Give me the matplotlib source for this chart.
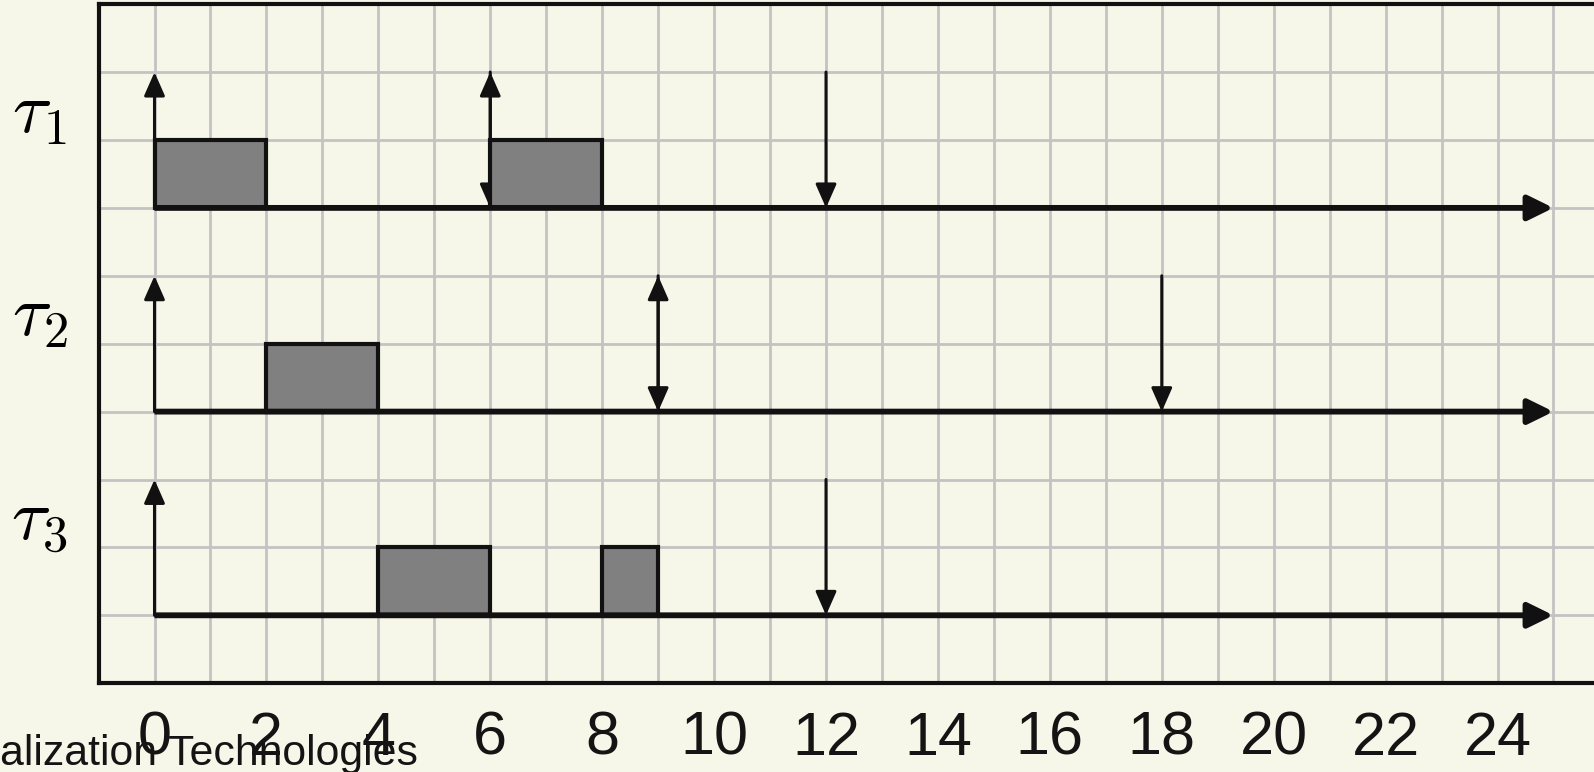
import matplotlib
matplotlib.use("Agg")
import matplotlib.pyplot as plt

# ---- data ----
task_labels = [r"$\tau_1$", r"$\tau_2$", r"$\tau_3$"]
task_levels = [7, 4, 1]                     # baseline of each task's time axis
releases = [[0, 6], [0, 9], [0]]            # upward arrows (job releases)
deadlines = [[6, 12], [9, 18], [12]]        # downward arrows (deadlines)
exec_starts = [[0, 6], [2], [4, 8]]         # executed slices: start
exec_lens = [[2, 2], [2], [2, 1]]           # executed slices: duration
axis_end = 25
xtick_vals = list(range(0, 25, 2))
footer = "alization Technologies"

# ---- style ----
BG = "#f7f7e9"
GRID = "#c3c3c3"
FW, FH, DPI = 15.94, 7.72, 100
ux = 55.96   # px per time unit
uy = 67.9    # px per row unit
x0_px = 154.5
y0_px_from_bottom = 772 - 683.2

fig = plt.figure(figsize=(FW, FH), dpi=DPI, facecolor=BG)
left = (x0_px - ux) / (FW * DPI)
xmax = 28
ax = fig.add_axes([left, y0_px_from_bottom / (FH * DPI),
                   (xmax + 1) * ux / (FW * DPI), 10 * uy / (FH * DPI)])
ax.set_facecolor(BG)
ax.set_xlim(-1, xmax)
ax.set_ylim(0, 10)

ax.set_xticks(xtick_vals)
ax.set_xticklabels([str(v) for v in xtick_vals], fontsize=44,
                   family="Liberation Sans", color="#141414")
ax.set_xticks(range(-1, xmax + 1), minor=True)
ax.set_yticks(range(0, 11))
ax.set_yticklabels([])
ax.tick_params(axis="both", which="both", length=0, pad=20)
ax.grid(True, which="both", color=GRID, lw=2.0, zorder=0)
ax.set_axisbelow(True)
for sp in ax.spines.values():
    sp.set_linewidth(3.0)
    sp.set_color("#111111")

vstyle = "-|>,head_length=0.5,head_width=0.22"
hstyle = "-|>,head_length=0.55,head_width=0.27"
for i, lvl in enumerate(task_levels):
    ax.text(-2.05, lvl + 1.4, task_labels[i], fontsize=52, ha="center",
            va="center", math_fontfamily="cm", clip_on=False)
    for r in releases[i]:
        ax.annotate("", xy=(r, lvl + 2), xytext=(r, lvl),
                    arrowprops=dict(arrowstyle=vstyle, lw=2.2, color="#111111",
                                    shrinkA=0, shrinkB=0, mutation_scale=29),
                    zorder=3)
    for d in deadlines[i]:
        ax.annotate("", xy=(d, lvl), xytext=(d, lvl + 2),
                    arrowprops=dict(arrowstyle=vstyle, lw=2.2, color="#111111",
                                    shrinkA=0, shrinkB=0, mutation_scale=29),
                    zorder=3)
    ax.bar(exec_starts[i], [1] * len(exec_starts[i]), width=exec_lens[i],
           bottom=lvl, align="edge", color="#808080", edgecolor="#111111",
           linewidth=3.0, zorder=4)
    ax.annotate("", xy=(axis_end, lvl), xytext=(0, lvl),
                arrowprops=dict(arrowstyle=hstyle, lw=4.2, color="#111111",
                                shrinkA=0, shrinkB=0, mutation_scale=28,
                                capstyle="butt"),
                zorder=5)

fig.text(0.0, 7.5 / (FH * DPI), footer, fontsize=30.8, family="Liberation Sans",
         color="#141414", ha="left", va="baseline")

fig.savefig("out.png", dpi=DPI, facecolor=BG)
